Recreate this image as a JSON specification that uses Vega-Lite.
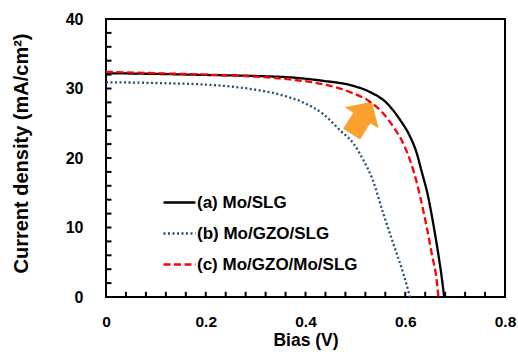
{
  "$schema": "https://vega.github.io/schema/vega-lite/v6.json",
  "width": 399,
  "height": 278,
  "autosize": "none",
  "padding": {"left": 106, "top": 19, "right": 13, "bottom": 66},
  "background": "white",
  "config": {
    "font": "Liberation Sans",
    "view": {"stroke": "black", "strokeWidth": 2},
    "axis": {"grid": false, "ticks": false, "domain": false, "labelColor": "black", "titleColor": "black", "labelFont": "Liberation Sans", "titleFont": "Liberation Sans", "labelFontWeight": "bold", "titleFontWeight": "bold"}
  },
  "datasets": {
    "curves": [
      {"series": "(b) Mo/GZO/SLG", "V": 0, "J": 30.9},
      {"series": "(b) Mo/GZO/SLG", "V": 0.06, "J": 30.85},
      {"series": "(b) Mo/GZO/SLG", "V": 0.122, "J": 30.75},
      {"series": "(b) Mo/GZO/SLG", "V": 0.19, "J": 30.6},
      {"series": "(b) Mo/GZO/SLG", "V": 0.255, "J": 30.25},
      {"series": "(b) Mo/GZO/SLG", "V": 0.302, "J": 29.8},
      {"series": "(b) Mo/GZO/SLG", "V": 0.355, "J": 29.0},
      {"series": "(b) Mo/GZO/SLG", "V": 0.395, "J": 28.0},
      {"series": "(b) Mo/GZO/SLG", "V": 0.436, "J": 26.3},
      {"series": "(b) Mo/GZO/SLG", "V": 0.469, "J": 24.0},
      {"series": "(b) Mo/GZO/SLG", "V": 0.496, "J": 22.1},
      {"series": "(b) Mo/GZO/SLG", "V": 0.516, "J": 19.7},
      {"series": "(b) Mo/GZO/SLG", "V": 0.534, "J": 17.0},
      {"series": "(b) Mo/GZO/SLG", "V": 0.556, "J": 12.0},
      {"series": "(b) Mo/GZO/SLG", "V": 0.576, "J": 7.7},
      {"series": "(b) Mo/GZO/SLG", "V": 0.596, "J": 3.4},
      {"series": "(b) Mo/GZO/SLG", "V": 0.6095, "J": 0},
      {"series": "(a) Mo/SLG", "V": 0, "J": 32.2},
      {"series": "(a) Mo/SLG", "V": 0.1, "J": 32.1},
      {"series": "(a) Mo/SLG", "V": 0.2, "J": 31.95},
      {"series": "(a) Mo/SLG", "V": 0.3, "J": 31.8},
      {"series": "(a) Mo/SLG", "V": 0.369, "J": 31.6},
      {"series": "(a) Mo/SLG", "V": 0.436, "J": 31.1},
      {"series": "(a) Mo/SLG", "V": 0.489, "J": 30.5},
      {"series": "(a) Mo/SLG", "V": 0.529, "J": 29.5},
      {"series": "(a) Mo/SLG", "V": 0.563, "J": 27.9},
      {"series": "(a) Mo/SLG", "V": 0.5895, "J": 25.5},
      {"series": "(a) Mo/SLG", "V": 0.6095, "J": 23.1},
      {"series": "(a) Mo/SLG", "V": 0.623, "J": 20.7},
      {"series": "(a) Mo/SLG", "V": 0.632, "J": 18.3},
      {"series": "(a) Mo/SLG", "V": 0.646, "J": 14.4},
      {"series": "(a) Mo/SLG", "V": 0.656, "J": 10.6},
      {"series": "(a) Mo/SLG", "V": 0.666, "J": 6.3},
      {"series": "(a) Mo/SLG", "V": 0.673, "J": 2.9},
      {"series": "(a) Mo/SLG", "V": 0.678, "J": 0},
      {"series": "(c) Mo/GZO/Mo/SLG", "V": 0, "J": 32.4},
      {"series": "(c) Mo/GZO/Mo/SLG", "V": 0.1, "J": 32.2},
      {"series": "(c) Mo/GZO/Mo/SLG", "V": 0.2, "J": 32.0},
      {"series": "(c) Mo/GZO/Mo/SLG", "V": 0.3, "J": 31.7},
      {"series": "(c) Mo/GZO/Mo/SLG", "V": 0.369, "J": 31.3},
      {"series": "(c) Mo/GZO/Mo/SLG", "V": 0.436, "J": 30.6},
      {"series": "(c) Mo/GZO/Mo/SLG", "V": 0.489, "J": 29.5},
      {"series": "(c) Mo/GZO/Mo/SLG", "V": 0.529, "J": 28.1},
      {"series": "(c) Mo/GZO/Mo/SLG", "V": 0.556, "J": 26.4},
      {"series": "(c) Mo/GZO/Mo/SLG", "V": 0.576, "J": 24.5},
      {"series": "(c) Mo/GZO/Mo/SLG", "V": 0.596, "J": 22.1},
      {"series": "(c) Mo/GZO/Mo/SLG", "V": 0.6095, "J": 19.7},
      {"series": "(c) Mo/GZO/Mo/SLG", "V": 0.618, "J": 17.8},
      {"series": "(c) Mo/GZO/Mo/SLG", "V": 0.63, "J": 14.4},
      {"series": "(c) Mo/GZO/Mo/SLG", "V": 0.643, "J": 10.1},
      {"series": "(c) Mo/GZO/Mo/SLG", "V": 0.653, "J": 6.3},
      {"series": "(c) Mo/GZO/Mo/SLG", "V": 0.663, "J": 2.4},
      {"series": "(c) Mo/GZO/Mo/SLG", "V": 0.6665, "J": 0}
    ],
    "arrow": [{"V": 0.5127, "J": 25.76}],
    "xticks": [
      {"V": 0.04, "J": 0}, {"V": 0.08, "J": 0}, {"V": 0.12, "J": 0}, {"V": 0.16, "J": 0}, {"V": 0.2, "J": 0},
      {"V": 0.24, "J": 0}, {"V": 0.28, "J": 0}, {"V": 0.32, "J": 0}, {"V": 0.36, "J": 0}, {"V": 0.4, "J": 0},
      {"V": 0.44, "J": 0}, {"V": 0.48, "J": 0}, {"V": 0.52, "J": 0}, {"V": 0.56, "J": 0}, {"V": 0.6, "J": 0},
      {"V": 0.64, "J": 0}, {"V": 0.68, "J": 0}, {"V": 0.72, "J": 0}, {"V": 0.76, "J": 0}
    ],
    "yticks": [
      {"V": 0, "J": 2}, {"V": 0, "J": 4}, {"V": 0, "J": 6}, {"V": 0, "J": 8}, {"V": 0, "J": 10},
      {"V": 0, "J": 12}, {"V": 0, "J": 14}, {"V": 0, "J": 16}, {"V": 0, "J": 18}, {"V": 0, "J": 20},
      {"V": 0, "J": 22}, {"V": 0, "J": 24}, {"V": 0, "J": 26}, {"V": 0, "J": 28}, {"V": 0, "J": 30},
      {"V": 0, "J": 32}, {"V": 0, "J": 34}, {"V": 0, "J": 36}, {"V": 0, "J": 38}
    ]
  },
  "encoding": {
    "x": {
      "field": "V", "type": "quantitative",
      "scale": {"domain": [0, 0.8], "nice": false, "zero": false},
      "axis": {
        "title": "Bias (V)",
        "values": [0, 0.2, 0.4, 0.6, 0.8],
        "labelExpr": "format(datum.value, '.1~f')",
        "domain": false,
        "ticks": false,
        "labelPadding": 17,
        "labelFontSize": 15.5,
        "labelFlush": false,
        "labelOverlap": false,
        "labelBound": false,
        "titleFontSize": 17.5,
        "titleBaseline": "alphabetic",
        "titleY": 48
      }
    },
    "y": {
      "field": "J", "type": "quantitative",
      "scale": {"domain": [0, 40], "nice": false},
      "axis": {
        "title": "Current density (mA/cm²)",
        "values": [0, 10, 20, 30, 40],
        "domain": false,
        "ticks": false,
        "labelPadding": 23,
        "labelFontSize": 16,
        "labelFlush": false,
        "labelOverlap": false,
        "labelBound": false,
        "titleFontSize": 20,
        "titleAngle": -90,
        "titleBaseline": "alphabetic",
        "titleAlign": "center",
        "titleX": -79,
        "titleY": 134
      }
    }
  },
  "layer": [
    {
      "data": {"name": "xticks"},
      "mark": {"type": "rule", "strokeWidth": 2, "color": "black"},
      "encoding": {
        "y2": {"datum": 0.75}
      }
    },
    {
      "data": {"name": "yticks"},
      "mark": {"type": "rule", "strokeWidth": 2, "color": "black"},
      "encoding": {
        "x2": {"datum": 0.011}
      }
    },
    {
      "data": {"name": "arrow"},
      "mark": {"type": "point", "shape": "M0,-0.95 L1,0 L0.5,0 L0.5,0.95 L-0.5,0.95 L-0.5,0 L-1,0 Z", "size": 1600, "angle": 32, "filled": true, "fill": "#F9A02E", "opacity": 1, "strokeWidth": 0}
    },
    {
      "data": {"name": "curves"},
      "mark": {"type": "line", "interpolate": "monotone", "clip": true, "strokeWidth": 2.3},
      "encoding": {
        "color": {
          "field": "series", "type": "nominal",
          "scale": {"domain": ["(a) Mo/SLG", "(b) Mo/GZO/SLG", "(c) Mo/GZO/Mo/SLG"], "range": ["#000000", "#1F4E79", "#FF0000"]},
          "legend": {
            "title": null, "orient": "none", "legendX": 56, "legendY": 166,
            "symbolType": "stroke", "symbolSize": 1024, "symbolStrokeWidth": 2.5,
            "labelFontSize": 17, "labelFontWeight": "bold", "labelColor": "black", "labelFont": "Liberation Sans",
            "labelOffset": 0, "labelLimit": 400, "rowPadding": 5, "padding": 0
          }
        },
        "strokeDash": {
          "field": "series", "type": "nominal",
          "scale": {"domain": ["(a) Mo/SLG", "(b) Mo/GZO/SLG", "(c) Mo/GZO/Mo/SLG"], "range": [[1, 0], [2, 2.5], [7, 3.5]]},
          "legend": {
            "title": null, "orient": "none", "legendX": 56, "legendY": 166,
            "symbolType": "stroke", "symbolSize": 1024, "symbolStrokeWidth": 2.5,
            "labelFontSize": 17, "labelFontWeight": "bold", "labelColor": "black", "labelFont": "Liberation Sans",
            "labelOffset": 0, "labelLimit": 400, "rowPadding": 5, "padding": 0
          }
        }
      }
    }
  ]
}
